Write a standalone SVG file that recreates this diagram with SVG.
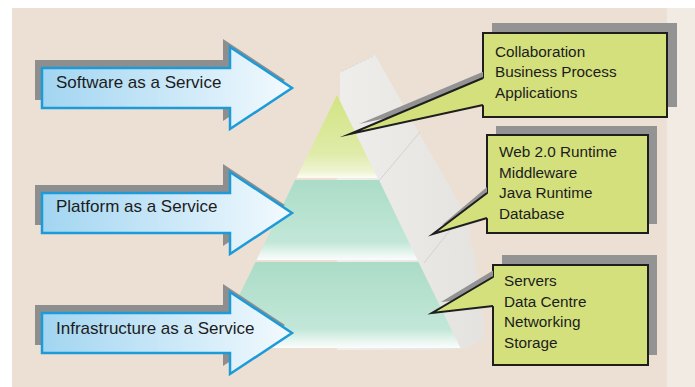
<svg xmlns="http://www.w3.org/2000/svg" width="695" height="387" viewBox="0 0 695 387">
<defs>
<linearGradient id="arrowGrad" x1="0" y1="0" x2="1" y2="0">
<stop offset="0" stop-color="#a2d5f1"/>
<stop offset="0.55" stop-color="#cde9f8"/>
<stop offset="1" stop-color="#f3fafe"/>
</linearGradient>
<linearGradient id="topTier" x1="0" y1="0" x2="0" y2="1">
<stop offset="0" stop-color="#d2e483"/>
<stop offset="0.7" stop-color="#dfeba8"/>
<stop offset="0.92" stop-color="#eef4d2"/>
<stop offset="1" stop-color="#fcfdf4"/>
</linearGradient>
<linearGradient id="tealTier" x1="0" y1="0" x2="0" y2="1">
<stop offset="0" stop-color="#abdcc7"/>
<stop offset="0.78" stop-color="#c2e7d8"/>
<stop offset="0.9" stop-color="#e3f4ed"/>
<stop offset="1" stop-color="#fbfdfc"/>
</linearGradient>
<linearGradient id="bandGrad" x1="0" y1="0" x2="1" y2="0">
<stop offset="0" stop-color="#f0f0ef"/>
<stop offset="1" stop-color="#e3e3e2"/>
</linearGradient>
</defs>
<style>
.arrow{fill:url(#arrowGrad);stroke:#1d9ad8;stroke-width:2.5;stroke-linejoin:miter}
.ashadow{fill:#8e8e8e}
.lbl{font-family:"Liberation Sans",Arial,sans-serif;font-size:17px;fill:#1c1c1c}
.box{fill:#d3e07c;stroke:#1e1e1e;stroke-width:2}
.bshadow{fill:#939393}
.btxt{font-family:"Liberation Sans",Arial,sans-serif;font-size:15.3px;fill:#1c1c1c}
.wedge{fill:#d3e07c}
.wedgeline{fill:none;stroke:#1e1e1e;stroke-width:2;stroke-linejoin:miter;stroke-miterlimit:20}
</style>
<rect x="0" y="0" width="695" height="387" fill="#ffffff"/>
<rect x="12" y="8" width="683" height="379" fill="#ece0d4"/>
<rect x="667" y="8" width="28" height="379" fill="#f2ebe4"/>

<g id="band">
<polygon points="340,73 375,55 423,140 467,217 482,300 484,338 468,348 440,350 337,350 337,100 340,100" fill="url(#bandGrad)" opacity="0.85"/>
<line x1="420" y1="132" x2="378" y2="182" stroke="#d2d2d2" stroke-width="1"/>
<line x1="470" y1="205" x2="424" y2="263" stroke="#d2d2d2" stroke-width="1"/>
<line x1="342" y1="71" x2="374" y2="56" stroke="#d8d8d8" stroke-width="1" stroke-dasharray="2,2"/>
</g>

<g id="pyramid">
<polygon points="337,95 377.5,178 296.5,178" fill="url(#topTier)"/>
<polygon points="295,180 379,180 417.5,260 256.5,260" fill="url(#tealTier)"/>
<polygon points="255.5,262 418.5,262 460.5,348 213.5,348" fill="url(#tealTier)"/>
</g>

<g id="node-saas">
<path class="ashadow" d="M35,60 H223 V39 L285,80 L223,121 V100 H35 Z"/>
<path class="arrow" d="M42,68 H230 V47 L292,88 L230,129 V108 H42 Z"/>
<text class="lbl" x="56" y="88">Software as a Service</text>
</g>

<g id="node-paas">
<path class="ashadow" d="M35,185 H223 V164 L285,205 L223,246 V225 H35 Z"/>
<path class="arrow" d="M42,193 H230 V172 L292,213 L230,254 V233 H42 Z"/>
<text class="lbl" x="56" y="212">Platform as a Service</text>
</g>

<g id="node-iaas">
<path class="ashadow" d="M35,305 H223 V284 L285,325 L223,366 V345 H35 Z"/>
<path class="arrow" d="M42,313 H230 V292 L292,333 L230,374 V353 H42 Z"/>
<text class="lbl" x="56" y="334">Infrastructure as a Service</text>
</g>

<g id="node-apps">
<rect class="bshadow" x="492" y="23" width="185" height="84"/>
<rect class="box" x="483" y="33" width="184" height="84"/>
<text class="btxt" x="495" y="56.5">Collaboration</text>
<text class="btxt" x="495" y="77">Business Process</text>
<text class="btxt" x="495" y="97.5">Applications</text>
</g>

<g id="node-platform">
<rect class="bshadow" x="496" y="126" width="161" height="98"/>
<rect class="box" x="487" y="135" width="161" height="98"/>
<text class="btxt" x="499" y="157">Web 2.0 Runtime</text>
<text class="btxt" x="499" y="177.5">Middleware</text>
<text class="btxt" x="499" y="198">Java Runtime</text>
<text class="btxt" x="499" y="218.5">Database</text>
</g>

<g id="node-infra">
<rect class="bshadow" x="502" y="255" width="155" height="100"/>
<rect class="box" x="493" y="265" width="155" height="100"/>
<text class="btxt" x="504" y="286">Servers</text>
<text class="btxt" x="504" y="306.5">Data Centre</text>
<text class="btxt" x="504" y="327">Networking</text>
<text class="btxt" x="504" y="347.5">Storage</text>
</g>

<g id="connectors">
<polygon class="bshadow" points="483,71.8 359,124 483,97"/>
<polygon class="wedge" points="484.5,78 350,134 484.5,105"/>
<polyline class="wedgeline" points="483,78 350,134 483,105"/>

<polygon class="bshadow" points="487,187 442,225 487,210"/>
<polygon class="wedge" points="488.5,193 433,234 488.5,218"/>
<polyline class="wedgeline" points="487,193 433,234 487,218"/>

<polygon class="bshadow" points="493,270.5 441,302 493,297"/>
<polygon class="wedge" points="494.5,277 432,313 494.5,306"/>
<polyline class="wedgeline" points="493,277 432,313 493,306"/>
</g>
</svg>
